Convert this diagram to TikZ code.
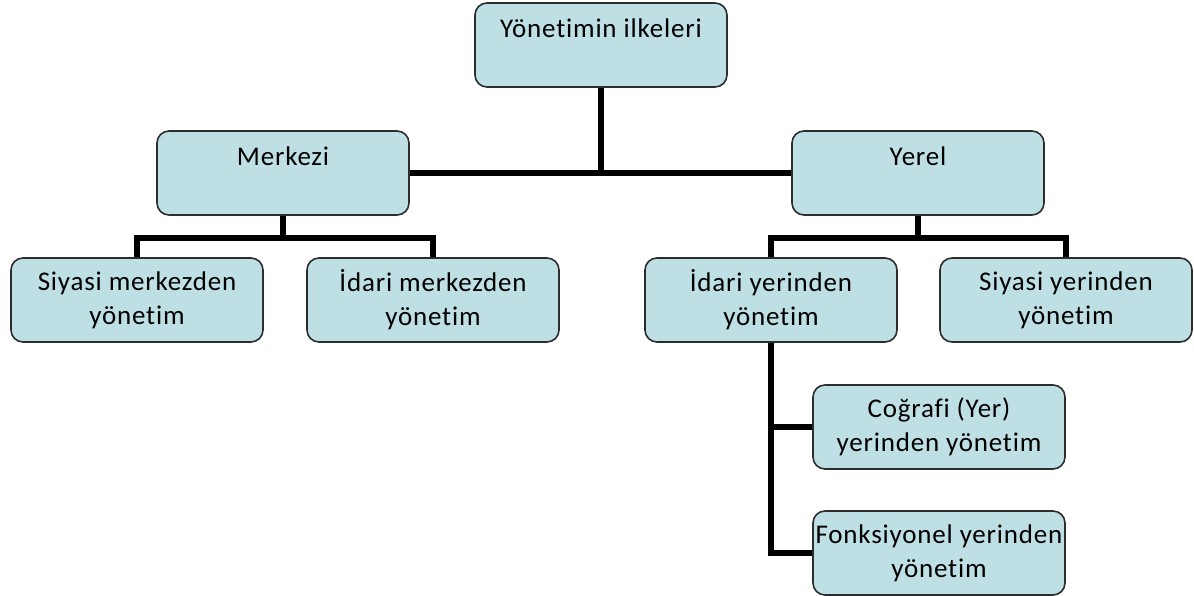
\documentclass[tikz,border=0pt]{standalone}
\usepackage{fontspec}
\setmainfont{Carlito}[LetterSpace=3,Ligatures={NoCommon}]
\definecolor{boxfill}{RGB}{190,224,229}
\definecolor{boxline}{RGB}{45,45,45}
\tikzset{
  orgbox/.style={draw=boxline, line width=1.6pt, fill=boxfill, rounded corners=12pt,
    minimum width=252pt, minimum height=84pt, inner sep=0pt, align=center,
    font=\fontsize{27}{34}\selectfont},
  conn/.style={line width=6pt, draw=black}
}
\begin{document}
\begin{tikzpicture}[x=1pt,y=-1pt]
\useasboundingbox (0,0) rectangle (1194,596);
\node[orgbox] (top) at (601,45) {Yönetimin ilkeleri\\\mbox{}};
\node[orgbox] (mer) at (283,173) {Merkezi\\\mbox{}};
\node[orgbox] (yer) at (918,173) {Yerel\\\mbox{}};
\node[orgbox] (sm) at (137,300) {Siyasi merkezden\\yönetim};
\node[orgbox] (im) at (433,300) {İdari merkezden\\yönetim};
\node[orgbox] (iy) at (771,300) {İdari yerinden\\yönetim};
\node[orgbox] (sy) at (1066,300) {Siyasi yerinden\\yönetim};
\node[orgbox] (cog) at (939,427) {Coğrafi (Yer)\\yerinden yönetim};
\node[orgbox] (fon) at (939,553) {Fonksiyonel yerinden\\yönetim};
\draw[conn] (top.south) -- (top.south |- mer.east);
\draw[conn] (mer.east) -- (yer.west);
\draw[conn] (mer.south) -- ++(0,22) -| (sm.north);
\draw[conn] (mer.south) -- ++(0,22) -| (im.north);
\draw[conn] (yer.south) -- ++(0,22) -| (iy.north);
\draw[conn] (yer.south) -- ++(0,22) -| (sy.north);
\draw[conn] (iy.south) |- (cog.west);
\draw[conn] (iy.south) |- (fon.west);
\end{tikzpicture}
\end{document}
